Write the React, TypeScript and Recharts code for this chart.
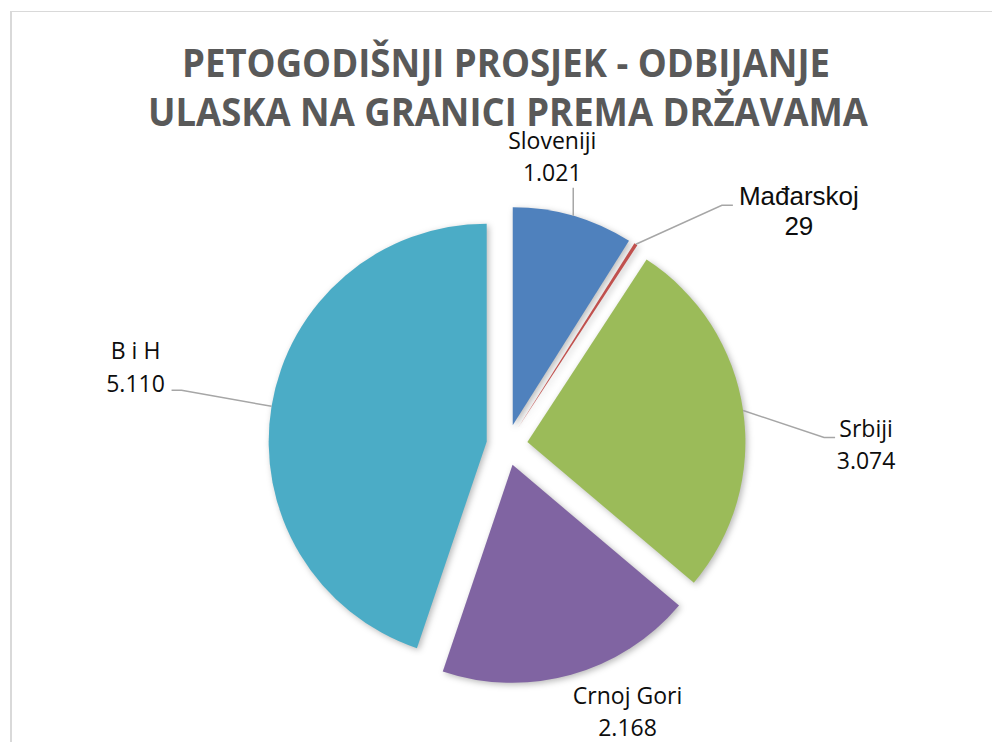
import React from 'react';
import { PieChart, Pie, Cell, Sector } from 'recharts';

const CATEGORIES = ['Sloveniji', 'Mađarskoj', 'Srbiji', 'Crnoj Gori', 'B i H'];
const VALUES = [1021, 29, 3074, 2168, 5110];
const COLORS = ['#4F81BD', '#C0504D', '#9BBB59', '#8064A2', '#4BACC6'];
const TITLE_LINES = ['PETOGODIŠNJI PROSJEK - ODBIJANJE', 'ULASKA NA GRANICI PREMA DRŽAVAMA'];

const data = CATEGORIES.map((name, i) => ({ name, value: VALUES[i] }));

const RAD = Math.PI / 180;
const EXPLODE = 20.6;

// label layout relative to outer arc midpoint of exploded slice
const LABEL_LAYOUT = [
  { line: [[0, -28]], tx: -21, ty: [-67, -35], font: 'Open Sans', size: 23 },
  { line: [[86, -39], [97, -39]], tx: 163, ty: [-39, -9], font: 'Liberation Sans', size: 26 },
  { line: [[81, 27], [92, 27]], tx: 123, ty: [27, 59], font: 'Open Sans', size: 23 },
  { line: [], tx: 56.5, ty: [29, 61], font: 'Open Sans', size: 23 },
  { line: [[-90, -16], [-100, -16]], tx: -136, ty: [-47, -14], font: 'Open Sans', size: 23 },
];

const fmt = (v: number) => String(v).replace(/\B(?=(\d{3})+(?!\d))/g, '.');

const ExplodedShape = (props: any) => {
  const { cx, cy, midAngle, innerRadius, outerRadius, startAngle, endAngle, fill } = props;
  const dx = EXPLODE * Math.cos(-midAngle * RAD);
  const dy = EXPLODE * Math.sin(-midAngle * RAD);
  return (
    <Sector
      cx={cx + dx}
      cy={cy + dy}
      innerRadius={innerRadius}
      outerRadius={outerRadius}
      startAngle={startAngle}
      endAngle={endAngle}
      fill={fill}
      stroke="none"
      style={{ filter: 'drop-shadow(2px 2px 3px rgba(0,0,0,0.28))' }}
    />
  );
};

const renderLabel = (props: any) => {
  const { cx, cy, midAngle, outerRadius, index } = props;
  const r = outerRadius + EXPLODE;
  const ox = cx + r * Math.cos(-midAngle * RAD);
  const oy = cy + r * Math.sin(-midAngle * RAD);
  const L = LABEL_LAYOUT[index];
  const pts = [[ox, oy], ...L.line.map(([a, b]) => [ox + a, oy + b])];
  return (
    <g key={`lbl-${index}`}>
      {L.line.length > 0 && (
        <polyline
          points={pts.map((p) => p.join(',')).join(' ')}
          fill="none"
          stroke="#a6a6a6"
          strokeWidth={1.5}
        />
      )}
      <text
        x={ox + L.tx}
        y={oy + L.ty[0]}
        textAnchor="middle"
        fontFamily={L.font}
        fontSize={L.size}
        fill="#0d0d0d"
      >
        {CATEGORIES[index]}
      </text>
      <text
        x={ox + L.tx}
        y={oy + L.ty[1]}
        textAnchor="middle"
        fontFamily={L.font}
        fontSize={L.size}
        fill="#0d0d0d"
      >
        {fmt(VALUES[index])}
      </text>
    </g>
  );
};

export default function App() {
  return (
    <div style={{ position: 'absolute', left: 0, top: 0, width: 992, height: 742, background: '#fff', overflow: 'hidden' }}>
      <div
        style={{
          position: 'absolute',
          left: 10,
          top: 11,
          width: 990,
          height: 740,
          borderLeft: '2px solid #d9d9d9',
          borderTop: '1px solid #d9d9d9',
          boxSizing: 'border-box',
        }}
      />
      <div style={{ position: 'absolute', left: 0, top: 0 }}>
        <PieChart width={992} height={742} margin={{ top: 0, right: 0, bottom: 0, left: 0 }}>
          <text x={506} y={77} textAnchor="middle" fontFamily="Open Sans" fontWeight={700} fontSize={40} fill="#595959" textLength={648} lengthAdjust="spacingAndGlyphs">
            {TITLE_LINES[0]}
          </text>
          <text x={508} y={126} textAnchor="middle" fontFamily="Open Sans" fontWeight={700} fontSize={40} fill="#595959" textLength={720} lengthAdjust="spacingAndGlyphs">
            {TITLE_LINES[1]}
          </text>
          <Pie
            data={data}
            dataKey="value"
            nameKey="name"
            cx={507}
            cy={445}
            innerRadius={0}
            outerRadius={218}
            startAngle={90}
            endAngle={-270}
            stroke="none"
            isAnimationActive={false}
            shape={ExplodedShape}
            label={renderLabel}
            labelLine={false}
          >
            {data.map((d, i) => (
              <Cell key={d.name} fill={COLORS[i]} />
            ))}
          </Pie>
        </PieChart>
      </div>
    </div>
  );
}
